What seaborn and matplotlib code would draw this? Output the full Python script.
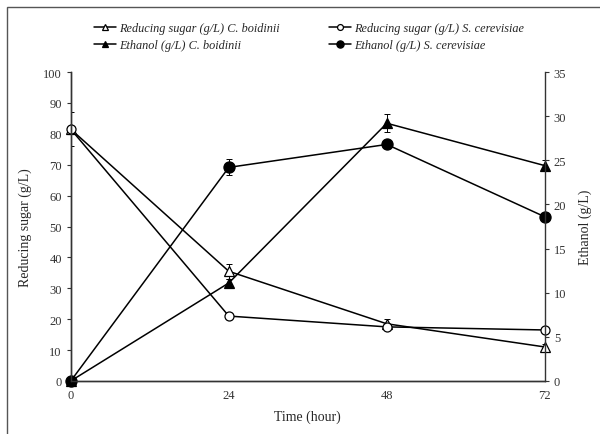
import matplotlib
matplotlib.use("Agg")
import matplotlib.pyplot as plt
import seaborn as sns
from matplotlib.patches import Rectangle

sns.set_style("white")
plt.rcParams['font.family'] = ['Liberation Serif', 'DejaVu Serif']

# data
time_h = [0, 24, 48, 72]
sugar_cb = [81.5, 35.5, 18.5, 11.0]
sugar_cb_err = [5.5, 2.5, 1.5, 1.0]
sugar_sc = [81.5, 21.0, 17.5, 16.5]
sugar_sc_err = [0.5, 0.5, 0.5, 0.5]
ethanol_cb = [0.0, 11.1, 29.2, 24.4]
ethanol_cb_err = [0.0, 0.5, 1.0, 0.6]
ethanol_sc = [0.0, 24.2, 26.8, 18.6]
ethanol_sc_err = [0.0, 0.9, 0.3, 0.3]

fig = plt.figure(figsize=(6, 4.35), dpi=100)
ax = fig.add_axes([0.118, 0.122, 0.79, 0.71])
ax2 = ax.twinx()

lk = dict(color='black', linewidth=1.1, markersize=6.5, clip_on=False,
          markeredgecolor='black', markeredgewidth=0.9)
ek = dict(fmt='none', ecolor='black', elinewidth=0.7, capsize=2.5, capthick=0.7)

ax.errorbar(time_h, sugar_cb, yerr=sugar_cb_err, **ek)
ax.errorbar(time_h, sugar_sc, yerr=sugar_sc_err, **ek)
ax2.errorbar(time_h, ethanol_cb, yerr=ethanol_cb_err, **ek)
ax2.errorbar(time_h, ethanol_sc, yerr=ethanol_sc_err, **ek)

sns.lineplot(x=time_h, y=sugar_cb, ax=ax, marker='^', markerfacecolor='white',
             label='Reducing sugar (g/L) C. boidinii', legend=False, **lk)
sns.lineplot(x=time_h, y=sugar_sc, ax=ax, marker='o', markerfacecolor='white',
             label='Reducing sugar (g/L) S. cerevisiae', legend=False, **lk)
sns.lineplot(x=time_h, y=ethanol_cb, ax=ax2, marker='^', markerfacecolor='black',
             label='Ethanol (g/L) C. boidinii', legend=False, **lk)
sns.lineplot(x=time_h, y=ethanol_sc, ax=ax2, marker='o', markerfacecolor='black',
             markersize=8, label='Ethanol (g/L) S. cerevisiae', legend=False,
             **{k: v for k, v in lk.items() if k != 'markersize'})

ax.set_xlim(0, 72)
ax.set_ylim(0, 100)
ax2.set_ylim(0, 35)
ax.set_xticks([0, 24, 48, 72])
ax.set_yticks(range(0, 101, 10))
ax2.set_yticks(range(0, 36, 5))

for a in (ax, ax2):
    a.spines['top'].set_visible(False)
    for s in a.spines.values():
        s.set_color('#333333')
        s.set_linewidth(1.0)
    a.tick_params(labelsize=9, colors='#333333', direction='out', length=3, width=0.8)
ax.spines['right'].set_visible(False)
ax.tick_params(axis='y', left=True)
ax.tick_params(axis='x', bottom=True, length=0, pad=6)
ax2.tick_params(axis='y', right=True)

ax.set_xlabel('Time (hour)', fontsize=10, labelpad=6)
ax.set_ylabel('Reducing sugar (g/L)', fontsize=10, labelpad=8)
ax2.set_ylabel('Ethanol (g/L)', fontsize=10, labelpad=9)

h1, l1 = ax.get_legend_handles_labels()
h2, l2 = ax2.get_legend_handles_labels()
handles = [h1[0], h2[0], h1[1], h2[1]]
labels = [l1[0], l2[0], l1[1], l2[1]]
fig.legend(handles, labels, loc='center', bbox_to_anchor=(0.515, 0.913), ncol=2,
           frameon=False, prop={'style': 'italic', 'size': 8.8}, markerscale=0.65,
           handlelength=1.8, handletextpad=0.3, columnspacing=4.0, labelspacing=0.4)

fig.patches.append(Rectangle((0.012, -0.1), 1.2, 1.082, transform=fig.transFigure,
                             fill=False, edgecolor='#555555', linewidth=1.0))

fig.savefig('out.png', dpi=100)
